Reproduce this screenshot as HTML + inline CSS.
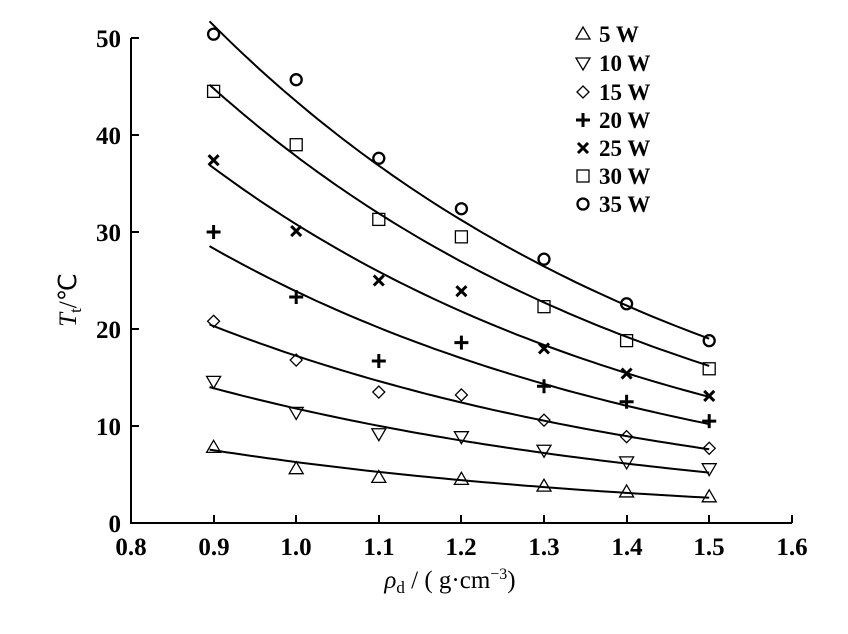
<!DOCTYPE html>
<html><head><meta charset="utf-8"><style>
html,body{margin:0;padding:0;background:#fff;width:848px;height:634px;overflow:hidden}
text{font-family:"Liberation Serif",serif;fill:#000}
</style></head><body>
<svg id="s" width="848" height="634" xmlns="http://www.w3.org/2000/svg">
<g stroke="#000" stroke-width="2" fill="none">
<line x1="131" y1="38" x2="131" y2="523"/>
<line x1="130" y1="523" x2="792" y2="523"/>
<path d="M131 38H139M131 135H139M131 232H139M131 329H139M131 426H139"/>
<path d="M214 523V515M296 523V515M379 523V515M461 523V515M544 523V515M627 523V515M709 523V515M792 523V515"/>
</g>
<g font-size="25" font-weight="bold" text-anchor="end">
<text x="121" y="532">0</text><text x="121" y="435">10</text><text x="121" y="338">20</text>
<text x="121" y="241">30</text><text x="121" y="144">40</text><text x="121" y="47">50</text>
</g>
<g font-size="25" font-weight="bold" text-anchor="middle">
<text x="131" y="555">0.8</text><text x="214" y="555">0.9</text><text x="296" y="555">1.0</text>
<text x="379" y="555">1.1</text><text x="461" y="555">1.2</text><text x="544" y="555">1.3</text>
<text x="627" y="555">1.4</text><text x="709" y="555">1.5</text><text x="792" y="555">1.6</text>
</g>
<text transform="translate(76,300) rotate(-90)" font-size="25" text-anchor="middle"><tspan font-style="italic">T</tspan><tspan font-size="17" dy="5">t</tspan><tspan dy="-5">/℃</tspan></text>
<text x="450" y="588" font-size="25" text-anchor="middle"><tspan font-style="italic">ρ</tspan><tspan font-size="17" dy="5">d</tspan><tspan dy="-5"> / ( g·cm</tspan><tspan font-size="16" dy="-9">−3</tspan><tspan dy="9">)</tspan></text>
<g id="g" stroke="#000" fill="none"></g>
<g font-size="23" font-weight="bold">
<text x="599" y="42">5 W</text><text x="599" y="71">10 W</text><text x="599" y="100">15 W</text>
<text x="599" y="128">20 W</text><text x="599" y="156">25 W</text><text x="599" y="184">30 W</text><text x="599" y="212">35 W</text>
</g>
</svg>
<script>
var g=document.getElementById('g');
function X(v){return 131+(v-0.8)*826}
function Y(v){return 523-v*9.7}
var out='';
function mk(t,x,y){
 if(t==0)return '<path d="M'+x+' '+(y-7)+'L'+(x+7)+' '+(y+5)+'L'+(x-7)+' '+(y+5)+'Z" stroke-width="1.3"/>';
 if(t==1)return '<path d="M'+x+' '+(y+7)+'L'+(x+7)+' '+(y-5)+'L'+(x-7)+' '+(y-5)+'Z" stroke-width="1.3"/>';
 if(t==2)return '<path d="M'+x+' '+(y-6)+'L'+(x+6)+' '+y+'L'+x+' '+(y+6)+'L'+(x-6)+' '+y+'Z" stroke-width="1.3"/>';
 if(t==3)return '<path d="M'+(x-7)+' '+y+'H'+(x+7)+'M'+x+' '+(y-7)+'V'+(y+7)+'" stroke-width="3"/>';
 if(t==4)return '<path d="M'+(x-5)+' '+(y-5)+'L'+(x+5)+' '+(y+5)+'M'+(x+5)+' '+(y-5)+'L'+(x-5)+' '+(y+5)+'" stroke-width="3"/>';
 if(t==5)return '<rect x="'+(x-6)+'" y="'+(y-6)+'" width="12" height="12" stroke-width="1.3"/>';
 return '<circle cx="'+x+'" cy="'+y+'" r="5.5" stroke-width="2.3"/>';
}
var d=[[7.8,5.6,4.7,4.5,3.8,3.2,2.7],[14.6,11.4,9.2,8.9,7.5,6.3,5.6],[20.8,16.8,13.5,13.2,10.6,8.9,7.7],
[30,23.3,16.7,18.6,14.1,12.5,10.5],[37.4,30.1,25.0,23.9,18.0,15.4,13.1],[44.5,39.0,31.3,29.5,22.3,18.8,15.9],[50.4,45.7,37.6,32.4,27.2,22.6,18.8]];
var c=[[7.5,2.6],[13.9,5.2],[20.3,7.6],[28.3,10.2],[36.6,13.0],[44.8,16.2],[51.3,19.0]];
for(var i=0;i<7;i++){
 var a=c[i][0],b=Math.log(c[i][0]/c[i][1])/0.6,p='';
 for(var k=0;k<=60;k++){var x=0.895+k*0.605/60;p+=(k?'L':'M')+X(x).toFixed(1)+' '+Y(a*Math.exp(-b*(x-0.9))).toFixed(1);}
 out+='<path d="'+p+'" stroke-width="2"/>';
 for(var j=0;j<7;j++)out+=mk(i,X(0.9+j*0.1),Y(d[i][j]));
 out+=mk(i,583,[34,63,92,120,148,176,204][i]);
}
g.innerHTML=out;
</script>
</body></html>
